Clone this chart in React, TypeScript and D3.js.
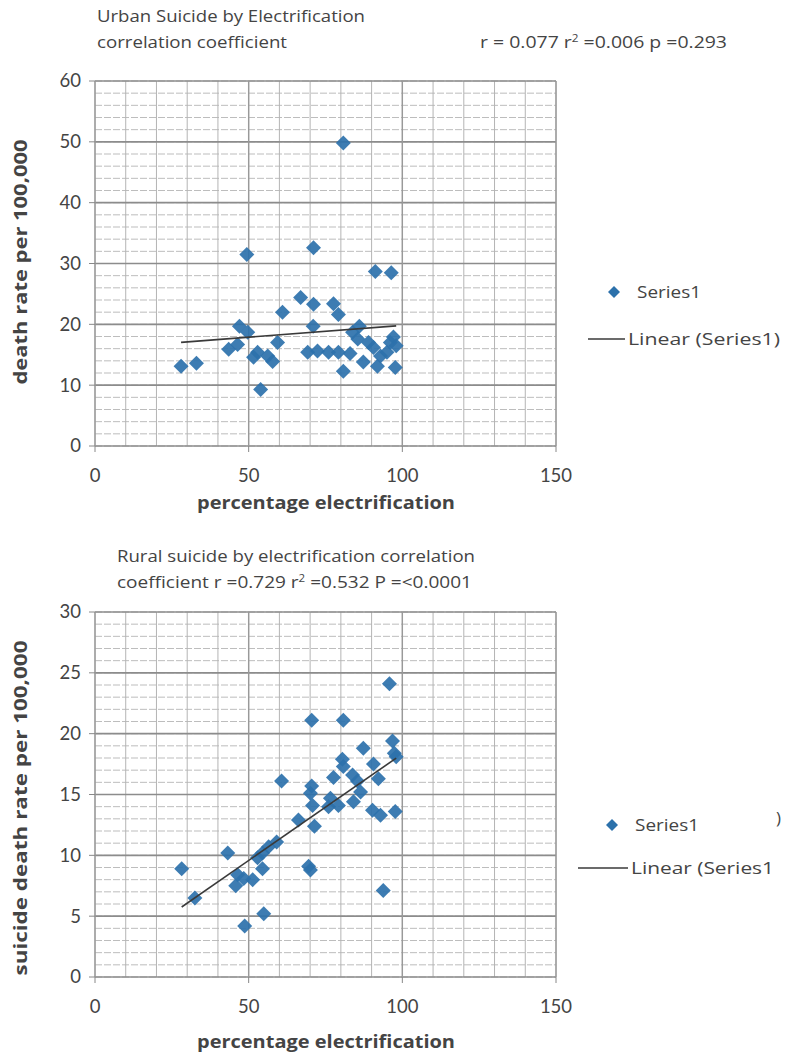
import * as d3 from "d3";

// Urban chart: percentage electrification vs. death rate
const urbanElec = [
  28, 33, 43.5, 46.4, 47, 49.4, 49.7, 51.6, 52.9, 53.9, 56.2, 57.8, 59.4, 61,
  66.9, 69.2, 71, 71.1, 71.1, 72.4, 76, 77.6, 79.2, 79.2, 80.8, 80.8, 83, 83.8,
  85.5, 86, 87.3, 89, 90.6, 91.2, 91.9, 92.9, 95, 96.1, 96.4, 97.1, 97.7, 98,
];
const urbanRate = [
  13.1, 13.6, 15.9, 16.7, 19.7, 31.5, 18.7, 14.6, 15.4, 9.3, 14.8, 13.9, 17, 22,
  24.4, 15.4, 19.7, 32.6, 23.3, 15.6, 15.4, 23.4, 21.6, 15.4, 12.3, 49.8, 15.2,
  18.7, 17.6, 19.7, 13.8, 17, 16.2, 28.7, 13.1, 14.8, 15.4, 17, 28.5, 17.9, 12.9,
  16.5,
];

// Rural chart
const ruralElec = [
  28.2, 32.5, 43.2, 45.8, 46.4, 48.4, 48.7, 51.3, 52.9, 54.5, 54.5, 54.9, 56.5,
  59.1, 60.7, 66.2, 69.5, 70.1, 70.1, 70.5, 70.5, 70.8, 71.4, 76, 76.6, 77.6,
  79.2, 80.5, 80.8, 80.8, 83.8, 84.1, 85.4, 86.4, 87.3, 90.3, 90.6, 92.2, 92.9,
  93.8, 95.8, 96.8, 97.4, 97.7, 98,
];
const ruralRate = [
  8.9, 6.5, 10.2, 7.5, 8.4, 8.1, 4.2, 8, 9.8, 10.2, 8.9, 5.2, 10.7, 11.1, 16.1,
  12.9, 9.1, 8.8, 15.1, 15.7, 21.1, 14.1, 12.4, 14, 14.7, 16.4, 14.1, 17.9, 17.3,
  21.1, 16.6, 14.4, 16.1, 15.2, 18.8, 13.7, 17.5, 16.3, 13.3, 7.1, 24.1, 19.4,
  18.4, 13.6, 18.1,
];

const xTicks = [0, 50, 100, 150];
const urbanYTicks = [0, 10, 20, 30, 40, 50, 60];
const ruralYTicks = [0, 5, 10, 15, 20, 25, 30];

const FONT = "Lato, 'Open Sans', sans-serif";
const WIDE = "'Open Sans', Lato, sans-serif";
const MARKER = "#2c71ab";
const TEXT = "#444";

const PLOT = { left: 95, width: 461, height: 365 };

function fitLine(xs: number[], ys: number[]) {
  const mx = d3.mean(xs)!;
  const my = d3.mean(ys)!;
  const sxy = d3.sum(xs, (x, i) => (x - mx) * (ys[i] - my));
  const sxx = d3.sum(xs, (x) => (x - mx) ** 2);
  const slope = sxy / sxx;
  return { slope, intercept: my - slope * mx };
}

const diamond = "M0,-7.5L7.5,0L0,7.5L-7.5,0Z";

function Scatter({
  top,
  xs,
  ys,
  yTicks,
  yMinor,
  yTitle,
  yTitleLen,
  yTitleCenter,
  xTitleDy,
}: {
  top: number;
  xs: number[];
  ys: number[];
  yTicks: number[];
  yMinor: number;
  yTitle: string;
  yTitleLen: number;
  yTitleCenter: number;
  xTitleDy: number;
}) {
  const yMax = yTicks[yTicks.length - 1];
  const x = d3
    .scaleLinear()
    .domain([0, 150])
    .range([PLOT.left, PLOT.left + PLOT.width]);
  const y = d3
    .scaleLinear()
    .domain([0, yMax])
    .range([top + PLOT.height, top]);

  const xMinor = d3.range(0, 151, 10);
  const yMinorTicks = d3.range(0, yMax + 0.001, yMinor);
  const { slope, intercept } = fitLine(xs, ys);
  const [x0, x1] = d3.extent(xs) as [number, number];
  const bottom = top + PLOT.height;

  return (
    <g>
      {/* minor horizontal grid */}
      {yMinorTicks.map((t) => (
        <line
          key={"hm" + t}
          x1={PLOT.left}
          x2={PLOT.left + PLOT.width}
          y1={y(t)}
          y2={y(t)}
          stroke="#bdbdbd"
          strokeDasharray="7,2"
        />
      ))}
      {/* minor vertical grid */}
      {xMinor.map((t) => (
        <line
          key={"vm" + t}
          x1={x(t)}
          x2={x(t)}
          y1={top}
          y2={bottom}
          stroke="#b4b4b4"
        />
      ))}
      {/* major grid */}
      {yTicks.map((t) => (
        <line
          key={"hM" + t}
          x1={PLOT.left}
          x2={PLOT.left + PLOT.width}
          y1={y(t)}
          y2={y(t)}
          stroke="#8c8c8c"
          strokeWidth={1.6}
        />
      ))}
      {xTicks.map((t) => (
        <line
          key={"vM" + t}
          x1={x(t)}
          x2={x(t)}
          y1={top}
          y2={bottom}
          stroke="#999"
          strokeWidth={1.4}
        />
      ))}
      {/* axes ticks */}
      {yTicks.map((t) => (
        <g key={"yt" + t}>
          <line
            x1={PLOT.left - 6}
            x2={PLOT.left}
            y1={y(t)}
            y2={y(t)}
            stroke="#888"
          />
          <text
            x={PLOT.left - 14}
            y={y(t)}
            dy="0.35em"
            textAnchor="end"
            fontSize={18.5}
            fontFamily={FONT}
            fill={TEXT}
          >
            {t}
          </text>
        </g>
      ))}
      {xTicks.map((t) => (
        <g key={"xt" + t}>
          <line
            x1={x(t)}
            x2={x(t)}
            y1={bottom}
            y2={bottom + 6}
            stroke="#888"
          />
          <text
            x={x(t)}
            y={bottom + 36}
            textAnchor="middle"
            fontSize={18.5}
            fontFamily={FONT}
            fill={TEXT}
          >
            {t}
          </text>
        </g>
      ))}
      {/* data */}
      {xs.map((v, i) => (
        <path
          key={"p" + i}
          d={diamond}
          transform={`translate(${x(v)},${y(ys[i])})`}
          fill={MARKER}
          opacity={0.92}
        />
      ))}
      <line
        x1={x(x0)}
        x2={x(x1)}
        y1={y(intercept + slope * x0)}
        y2={y(intercept + slope * x1)}
        stroke="#3a3a3a"
        strokeWidth={1.6}
      />
      {/* axis titles */}
      <text
        transform={`translate(27,${yTitleCenter}) rotate(-90)`}
        textAnchor="middle"
        fontSize={18.5}
        fontWeight="bold"
        fontFamily={WIDE}
        fill={TEXT}
        textLength={yTitleLen}
        lengthAdjust="spacingAndGlyphs"
      >
        {yTitle}
      </text>
      <text
        x={326}
        y={bottom + xTitleDy}
        textAnchor="middle"
        fontSize={18.5}
        fontWeight="bold"
        fontFamily={WIDE}
        fill={TEXT}
        textLength={258}
        lengthAdjust="spacingAndGlyphs"
      >
        percentage electrification
      </text>
    </g>
  );
}

function Legend({
  dx,
  dy,
  lineX1,
  lineX2,
  lineY,
  textX,
  label,
  labelLen,
}: {
  dx: number;
  dy: number;
  lineX1: number;
  lineX2: number;
  lineY: number;
  textX: number;
  label: string;
  labelLen: number;
}) {
  return (
    <g fontFamily={WIDE} fontSize={17} fill={TEXT}>
      <path
        d="M0,-6L6,0L0,6L-6,0Z"
        transform={`translate(${dx},${dy})`}
        fill={MARKER}
      />
      <text
        x={dx + 23}
        y={dy}
        dy="0.35em"
        textLength={64}
        lengthAdjust="spacingAndGlyphs"
      >
        Series1
      </text>
      <line
        x1={lineX1}
        x2={lineX2}
        y1={lineY}
        y2={lineY}
        stroke="#3a3a3a"
        strokeWidth={1.4}
      />
      <text
        x={textX}
        y={lineY}
        dy="0.35em"
        textLength={labelLen}
        lengthAdjust="spacingAndGlyphs"
      >
        {label}
      </text>
    </g>
  );
}

export default function App() {
  return (
    <svg
      width={788}
      height={1055}
      style={{ position: "absolute", left: 0, top: 0, background: "#fff" }}
    >
      <g fontFamily={WIDE} fontSize={16.5} fill={TEXT}>
        <text
          x={97}
          y={22}
          textLength={268}
          lengthAdjust="spacingAndGlyphs"
        >
          Urban Suicide by Electrification
        </text>
        <text
          x={97}
          y={48}
          textLength={190}
          lengthAdjust="spacingAndGlyphs"
        >
          correlation coefficient
        </text>
        <text
          x={480}
          y={48}
          textLength={247}
          lengthAdjust="spacingAndGlyphs"
        >
          r = 0.077 r
          <tspan dy={-6} fontSize={10}>
            2
          </tspan>
          <tspan dy={6}> =0.006  p =0.293</tspan>
        </text>
        <text
          x={117}
          y={562}
          textLength={358}
          lengthAdjust="spacingAndGlyphs"
        >
          Rural suicide by electrification correlation
        </text>
        <text
          x={117}
          y={588}
          textLength={355}
          lengthAdjust="spacingAndGlyphs"
        >
          coefficient r =0.729 r
          <tspan dy={-6} fontSize={10}>
            2
          </tspan>
          <tspan dy={6}> =0.532 P =&lt;0.0001</tspan>
        </text>
      </g>
      <Scatter
        top={81}
        xs={urbanElec}
        ys={urbanRate}
        yTicks={urbanYTicks}
        yMinor={2}
        yTitle="death rate per 100,000"
        yTitleLen={245}
        yTitleCenter={262}
        xTitleDy={63}
      />
      <Scatter
        top={612}
        xs={ruralElec}
        ys={ruralRate}
        yTicks={ruralYTicks}
        yMinor={1}
        yTitle="suicide death rate per 100,000"
        yTitleLen={335}
        yTitleCenter={808}
        xTitleDy={71}
      />
      <Legend
        dx={614}
        dy={292}
        lineX1={588}
        lineX2={625}
        lineY={339}
        textX={628}
        label="Linear (Series1)"
        labelLen={152}
      />
      <Legend
        dx={612}
        dy={825}
        lineX1={578}
        lineX2={628}
        lineY={868}
        textX={631}
        label="Linear (Series1"
        labelLen={143}
      />
      <text x={776} y={824} fontFamily={WIDE} fontSize={17} fill={TEXT}>
        )
      </text>
    </svg>
  );
}
